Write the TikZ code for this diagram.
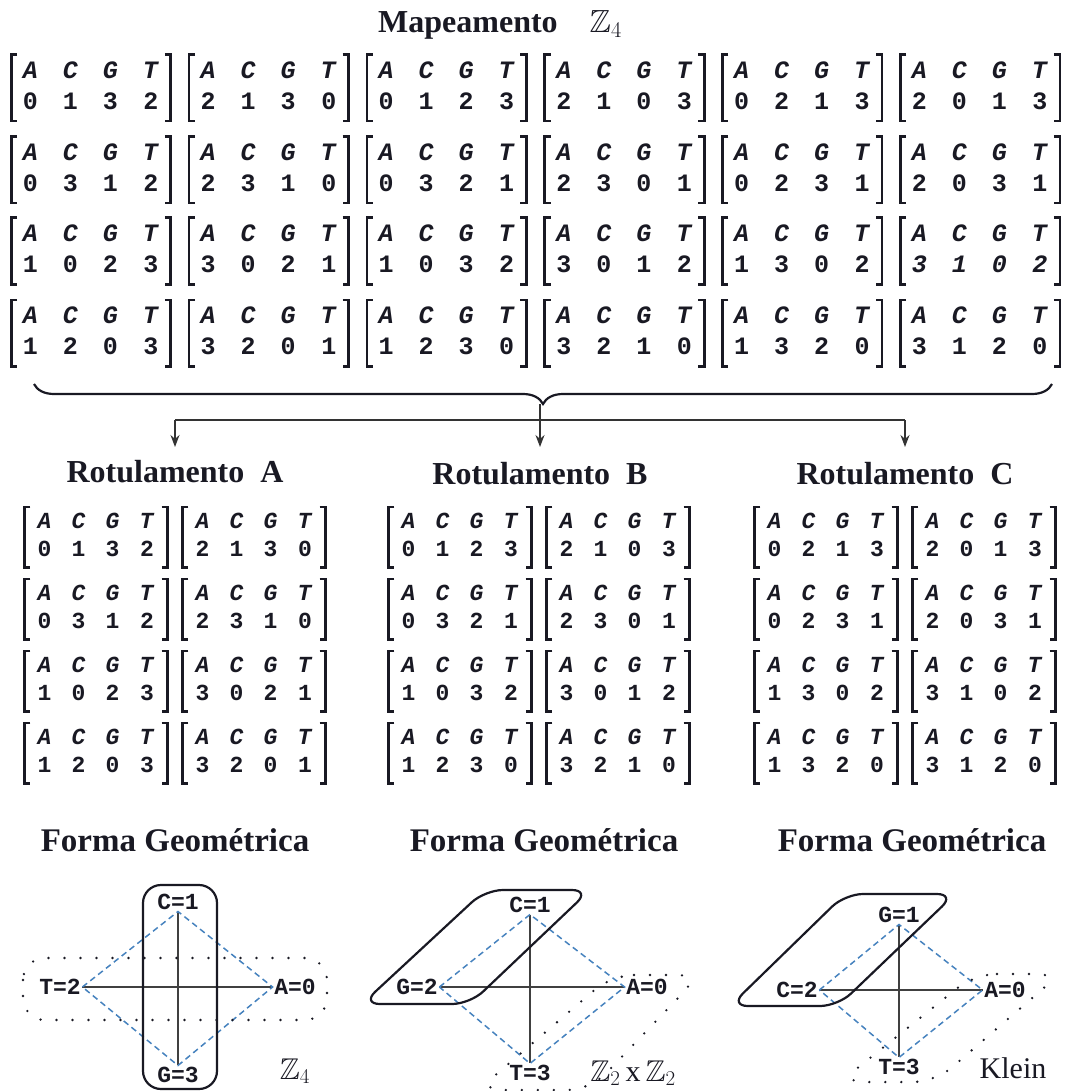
\RequirePackage{fix-cm}
\documentclass[tikz,border=0pt]{standalone}
\usepackage{amssymb}
\usepackage{fontspec}
\usetikzlibrary{decorations.pathreplacing,arrows.meta}
\newfontfamily\cour{Liberation Mono}
\newfontfamily\tms{Liberation Serif}
\definecolor{ink}{RGB}{25,25,35}
\definecolor{dblue}{RGB}{70,130,190}
\def\splitdig#1#2#3#4{#1&#2&#3&#4}
\newcommand\Mtx[5]{%
  \node[#2] (#1) at ({#3},{#4}) {\begin{tabular}{@{}cccc@{}}\textit{A}&\textit{C}&\textit{G}&\textit{T}\\\expandafter\splitdig#5\end{tabular}};
  \draw[brk] ([xshift=6pt]#1.north west) -- (#1.north west) -- (#1.south west) -- ([xshift=6pt]#1.south west);
  \draw[brk] ([xshift=-6pt]#1.north east) -- (#1.north east) -- (#1.south east) -- ([xshift=-6pt]#1.south east);
}
\tikzset{
 bigm/.style={inner xsep=11.5pt, inner ysep=2pt, text=ink, font=\cour\bfseries\fontsize{25}{31}\selectfont\setlength{\tabcolsep}{12.5pt}},
 smallm/.style={inner xsep=13pt, inner ysep=2pt, text=ink, font=\cour\bfseries\fontsize{23}{28}\selectfont\setlength{\tabcolsep}{10.1pt}},
 brk/.style={line width=2.6pt, ink},
 title/.style={font=\tms\bfseries\fontsize{32}{38}\selectfont, text=ink},
 ftitle/.style={font=\tms\bfseries\fontsize{33}{38}\selectfont, text=ink},
 lbl/.style={font=\cour\bfseries\fontsize{23}{26}\selectfont, inner sep=1.5pt, text=ink},
 axis/.style={line width=1.4pt, black!75},
 dia/.style={dblue, line width=1.5pt, dash pattern=on 6pt off 4pt},
 hull/.style={line width=2.2pt, ink, rounded corners=18pt},
 dhull/.style={line width=2.6pt, ink, dash pattern=on 0pt off 16pt, line cap=round, rounded corners=22pt},
 conn/.style={line width=1.4pt, black!80},
 arr/.style={conn, -{Stealth[length=12pt,width=9pt]}},
 grp/.style={font=\fontsize{30}{34}\selectfont, text=ink, inner sep=1pt},
}
\begin{document}
\begin{tikzpicture}[x=1pt,y=-1pt]
\useasboundingbox (0,0) rectangle (1067,1091);
% title
\node[title] (map) at (500,25) {Mapeamento\quad$\mathbb{Z}_4$};
% top grid
\foreach \d [count=\i] in {0132,2130,0123,2103,0213,2013} {\Mtx{ta\i}{bigm}{91+177.8*(\i-1)}{88}{\d}}
\foreach \d [count=\i] in {0312,2310,0321,2301,0231,2031} {\Mtx{tb\i}{bigm}{91+177.8*(\i-1)}{170}{\d}}
\foreach \d [count=\i] in {1023,3021,1032,3012,1302,{{\itshape3}{\itshape1}{\itshape0}{\itshape2}}} {\Mtx{tc\i}{bigm}{91+177.8*(\i-1)}{251}{\d}}
\foreach \d [count=\i] in {1203,3201,1230,3210,1320,3120} {\Mtx{td\i}{bigm}{91+177.8*(\i-1)}{333}{\d}}
% brace and connectors
\coordinate (bl) at (34,384);
\coordinate (br) at (1052,384);
\draw[decorate, decoration={brace,mirror,amplitude=20pt}, line width=2.2pt, ink] (bl) -- (br);
\coordinate (tip) at (540,404);
\coordinate (hl) at (175,420);
\coordinate (hr) at (905,420);
\coordinate (aA) at (175,447);
\coordinate (aB) at (540,447);
\coordinate (aC) at (905,447);
\draw[conn] (hl) -- (hr);
\draw[arr] (hl) -- (aA);
\draw[arr] (tip) -- (aB);
\draw[arr] (hr) -- (aC);
% labelling titles
\node[title] (rA) at (175,472) {Rotulamento\enspace A};
\node[title] (rB) at (540,474) {Rotulamento\enspace B};
\node[title] (rC) at (905,474) {Rotulamento\enspace C};
% labelling groups
\foreach \d/\x/\y [count=\i] in {0132/96/537,2130/254/537,0312/96/609,2310/254/609,1023/96/681,3021/254/681,1203/96/753,3201/254/753} {\Mtx{ra\i}{smallm}{\x}{\y}{\d}}
\foreach \d/\x/\y [count=\i] in {0123/460/537,2103/618/537,0321/460/609,2301/618/609,1032/460/681,3012/618/681,1230/460/753,3210/618/753} {\Mtx{rb\i}{smallm}{\x}{\y}{\d}}
\foreach \d/\x/\y [count=\i] in {0213/826/537,2013/984/537,0231/826/609,2031/984/609,1302/826/681,3102/984/681,1320/826/753,3120/984/753} {\Mtx{rc\i}{smallm}{\x}{\y}{\d}}
% geometric titles
\node[ftitle] (fA) at (175,840) {Forma Geométrica};
\node[ftitle] (fB) at (544,840) {Forma Geométrica};
\node[ftitle] (fC) at (912,840) {Forma Geométrica};
% Z4
\node[lbl] (zA) at (295,987) {A=0};
\node[lbl] (zC) at (178,902) {C=1};
\node[lbl] (zT) at (60,987) {T=2};
\node[lbl] (zG) at (178,1075) {G=3};
\draw[axis] (zT.east) -- (zA.west);
\draw[axis] (zC.south) -- (zG.north);
\draw[dia] (zT.east) -- (zC.south) -- (zA.west) -- (zG.north) -- cycle;
\draw[hull] (143,885) rectangle (217,1089);
\draw[dhull] (23,958) rectangle (327,1020);
\node[grp] (zlab) at (295,1071) {$\mathbb{Z}_4$};
% Z2 x Z2
\node[lbl] (mC) at (530,905) {C=1};
\node[lbl] (mG) at (417,987) {G=2};
\node[lbl] (mA) at (647,987) {A=0};
\node[lbl] (mT) at (530,1073) {T=3};
\draw[axis] (mG.east) -- (mA.west);
\draw[axis] (mC.south) -- (mT.north);
\draw[dia] (mG.east) -- (mC.south) -- (mA.west) -- (mT.north) -- cycle;
\draw[hull] (485,890) -- (590,890) -- (470,1004) -- (362,1004) -- cycle;
\draw[dhull] (612,975) -- (700,975) -- (590,1090) -- (478,1090) -- cycle;
\node[grp] (mlab) at (633,1073) {$\mathbb{Z}_2$\,{\tms x}\,$\mathbb{Z}_2$};
% Klein
\node[lbl] (kG) at (899,915) {G=1};
\node[lbl] (kC) at (797,990) {C=2};
\node[lbl] (kA) at (1005,990) {A=0};
\node[lbl] (kT) at (899,1067) {T=3};
\draw[axis] (kC.east) -- (kA.west);
\draw[axis] (kG.south) -- (kT.north);
\draw[dia] (kC.east) -- (kG.south) -- (kA.west) -- (kT.north) -- cycle;
\draw[hull] (845,894) -- (955,894) -- (838,1006) -- (730,1006) -- cycle;
\draw[dhull] (975,974) -- (1060,974) -- (935,1082) -- (840,1082) -- cycle;
\node[grp] (klab) at (1013,1068) {\tms Klein};
\end{tikzpicture}
\end{document}
